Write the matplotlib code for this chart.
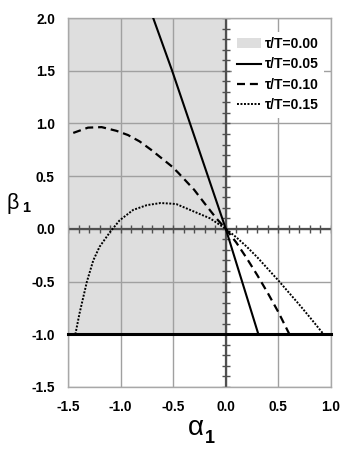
import numpy as np
import matplotlib
matplotlib.use("Agg")
import matplotlib.pyplot as plt
from matplotlib.patches import Patch
from matplotlib.lines import Line2D

plt.rcParams['font.family'] = ['Liberation Sans', 'DejaVu Sans']

# stable region for tau/T = 0.00
shade_x = [-1.5, 0.0]
shade_y = [-1.0, 2.0]

# tau/T = 0.05
sol_x = [-0.69, -0.51, -0.34, -0.17, 0.0, 0.155, 0.31]
sol_y = [2.0, 1.5, 1.0, 0.5, 0.0, -0.5, -1.0]

# tau/T = 0.10
dash_x = [-1.45, -1.31, -1.18, -1.04, -0.93, -0.82, -0.71, -0.61, -0.51, -0.45,
          -0.30, -0.20, -0.09, 0.0, 0.10, 0.20, 0.30, 0.40, 0.50, 0.605]
dash_y = [0.91, 0.96, 0.965, 0.93, 0.89, 0.83, 0.75, 0.67, 0.59, 0.53,
          0.37, 0.24, 0.10, 0.0, -0.13, -0.28, -0.44, -0.61, -0.79, -1.0]

# tau/T = 0.15
dot_x = [-1.43, -1.39, -1.32, -1.26, -1.20, -1.10, -1.01, -0.88, -0.75, -0.62,
         -0.53, -0.47, -0.34, -0.15, 0.0, 0.10, 0.20, 0.30, 0.40, 0.50, 0.60,
         0.70, 0.80, 0.93]
dot_y = [-1.0, -0.80, -0.50, -0.30, -0.17, -0.03, 0.08, 0.18, 0.225, 0.245,
         0.24, 0.235, 0.18, 0.10, 0.0, -0.08, -0.17, -0.27, -0.38, -0.49, -0.605,
         -0.72, -0.84, -1.0]

# lower bound beta = -1
bound_x = [-1.5, 1.0]
bound_y = [-1.0, -1.0]

labels = ['τ/T=0.00', 'τ/T=0.05', 'τ/T=0.10', 'τ/T=0.15']
xticks = [-1.5, -1.0, -0.5, 0.0, 0.5, 1.0]
yticks = [-1.5, -1.0, -0.5, 0.0, 0.5, 1.0, 1.5, 2.0]

fig = plt.figure(figsize=(3.53, 4.49), dpi=100)
ax = fig.add_axes([0.1926, 0.1381, 0.745, 0.8218])

shade_col = '#dedede'
ax.fill_between(shade_x, shade_y[0], shade_y[1], color=shade_col, lw=0, zorder=0)

ax.set_xlim(-1.5, 1.0)
ax.set_ylim(-1.5, 2.0)
ax.set_xticks(xticks)
ax.set_yticks(yticks)
ax.set_xticklabels(['%.1f' % v for v in xticks], fontweight='bold', fontsize=9.8)
ax.set_yticklabels(['%.1f' % v for v in yticks], fontweight='bold', fontsize=9.8)
ax.tick_params(length=0, pad=9.5)
ax.grid(True, color='#a0a0a0', lw=1.0)
for s in ax.spines.values():
    s.set_color('#a8a8a8')
    s.set_linewidth(1.0)

# axes through origin with small ticks
axcol = '#505050'
ax.axhline(0, color=axcol, lw=1.6, zorder=2)
ax.axvline(0, color=axcol, lw=1.6, zorder=2)
tx = np.arange(-15, 11) / 10
ty = np.arange(-15, 21) / 10
ax.plot(tx, np.zeros_like(tx), ls='none', marker='|', ms=6, mew=1.0, color=axcol, zorder=2)
ax.plot(np.zeros_like(ty), ty, ls='none', marker='_', ms=6, mew=1.0, color=axcol, zorder=2)

dots = (0, (1, 0.8))
dashes = (0, (3.6, 2.2))
ax.plot(bound_x, bound_y, color='black', lw=2.2, zorder=4, clip_on=False)
ax.plot(sol_x, sol_y, color='black', lw=1.5, zorder=3)
ax.plot(dash_x, dash_y, color='black', lw=1.6, ls=dashes, zorder=3)
ax.plot(dot_x, dot_y, color='black', lw=1.4, ls=dots, zorder=3)

handles = [Patch(facecolor=shade_col, edgecolor='none'),
           Line2D([], [], color='black', lw=1.5),
           Line2D([], [], color='black', lw=1.6, ls=dashes),
           Line2D([], [], color='black', lw=1.4, ls=dots)]
leg = ax.legend(handles, labels, loc='upper left', bbox_to_anchor=(0.622, 0.963),
                borderaxespad=0, frameon=True, fancybox=False, framealpha=1,
                edgecolor='none', facecolor='white', handlelength=1.7,
                handletextpad=0.3, labelspacing=0.45, borderpad=0.4,
                prop={'weight': 'bold', 'size': 10})
leg.set_zorder(5)

fig.text(0.0198, 0.5354, 'β', fontsize=15.5, va='baseline', ha='left')
fig.text(0.0623, 0.5278, '1', fontsize=10.5, fontweight='bold', va='baseline', ha='left')
fig.text(0.5326, 0.0312, 'α', fontsize=20, va='baseline', ha='left')
fig.text(0.5807, 0.0134, '1', fontsize=13, fontweight='bold', va='baseline', ha='left')

fig.savefig('out.png', dpi=100)
